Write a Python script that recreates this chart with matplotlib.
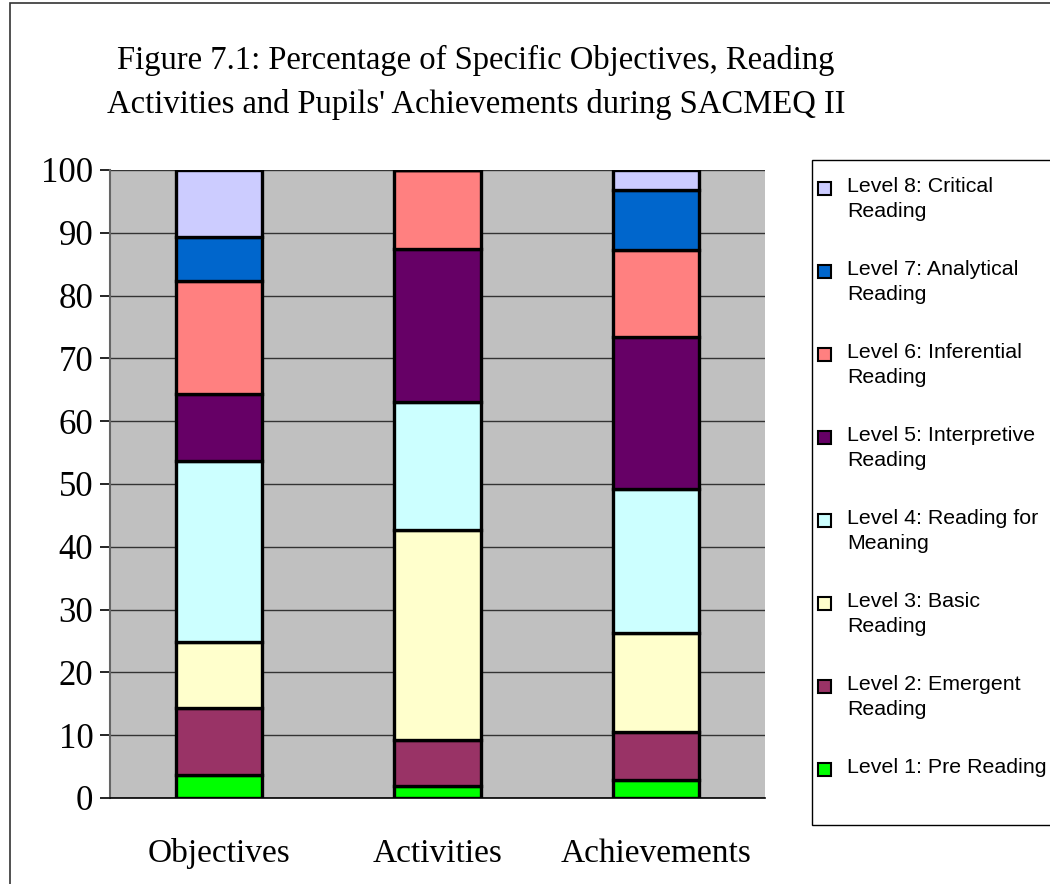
import matplotlib
matplotlib.use("Agg")
import matplotlib.pyplot as plt
from matplotlib.patches import Rectangle
import numpy as np

categories = ["Objectives", "Activities", "Achievements"]
levels = ["Level 1: Pre Reading", "Level 2: Emergent\nReading", "Level 3: Basic\nReading",
          "Level 4: Reading for\nMeaning", "Level 5: Interpretive\nReading",
          "Level 6: Inferential\nReading", "Level 7: Analytical\nReading",
          "Level 8: Critical\nReading"]
level1 = [3.6, 1.85, 2.8]
level2 = [10.7, 7.45, 7.7]
level3 = [10.6, 33.3, 15.7]
level4 = [28.7, 20.5, 23.0]
level5 = [10.7, 24.3, 24.2]
level6 = [18.1, 12.6, 13.9]
level7 = [6.9, 0.0, 9.5]
level8 = [10.7, 0.0, 3.2]
series = [level1, level2, level3, level4, level5, level6, level7, level8]
colors = ["#00FF00", "#993366", "#FFFFCC", "#CCFFFF", "#660066", "#FF8080", "#0066CC", "#CCCCFF"]
yticks = [0, 10, 20, 30, 40, 50, 60, 70, 80, 90, 100]

fig = plt.figure(figsize=(10.5, 8.84), dpi=100)
W, H = 1050, 884
ax = fig.add_axes([110 / W, (H - 798) / H, (765 - 110) / W, (798 - 170) / H])
ax.set_facecolor("#C0C0C0")

x = np.arange(len(categories))
bottom = np.zeros(len(categories))
for vals, col in zip(series, colors):
    v = np.array(vals)
    ax.bar(x, v, width=0.394, bottom=bottom, color=col, edgecolor="black", linewidth=2.4, zorder=3)
    bottom += v

ax.set_xlim(-0.5, 2.5)
ax.set_ylim(0, 100)
ax.set_yticks(yticks)
ax.set_yticklabels([str(t) for t in yticks], fontfamily="Liberation Serif", fontsize=25)
ax.set_xticks(x)
ax.set_xticklabels(categories, fontfamily="Liberation Serif", fontsize=24)
ax.tick_params(axis="x", length=0, pad=29)
ax.tick_params(axis="y", length=7, width=1.2, color="black", pad=5, direction="out")
ax.yaxis.grid(True, color="#333333", linewidth=1.0, zorder=1)
ax.set_axisbelow(True)
for s in ["top", "right"]:
    ax.spines[s].set_visible(False)
ax.spines["left"].set_color("#666666")
ax.spines["left"].set_linewidth(1.5)
ax.spines["bottom"].set_color("black")
ax.spines["bottom"].set_linewidth(1.2)

fig.text(476 / W, 1 - 60 / H, "Figure 7.1: Percentage of Specific Objectives, Reading",
         ha="center", va="center", fontfamily="Liberation Serif", fontsize=23.5)
fig.text(476 / W, 1 - 104 / H, "Activities and Pupils' Achievements during SACMEQ II",
         ha="center", va="center", fontfamily="Liberation Serif", fontsize=23.5)

# legend, drawn in figure pixel coordinates
fig.patches.append(Rectangle((812 / W, 1 - 825 / H), 0.3, (825 - 160) / H,
                             transform=fig.transFigure, facecolor="white",
                             edgecolor="black", linewidth=1.0))
for i, (lab, col) in enumerate(zip(levels[::-1], colors[::-1])):
    yc = 188 + 83 * i
    fig.patches.append(Rectangle((818 / W, 1 - (yc + 6.5) / H), 13 / W, 13 / H,
                                 transform=fig.transFigure, facecolor=col,
                                 edgecolor="black", linewidth=1.5))
    fig.text(847 / W, 1 - (yc - 11) / H, lab, ha="left", va="top",
             fontfamily="Liberation Sans", fontsize=15.4, linespacing=1.38)

# outer border of the chart
fig.patches.append(Rectangle((10 / W, -0.1), 1.2, 1 - 3 / H + 0.1, transform=fig.transFigure,
                             fill=False, edgecolor="#333333", linewidth=1.2))

fig.savefig("out.png", dpi=100)
